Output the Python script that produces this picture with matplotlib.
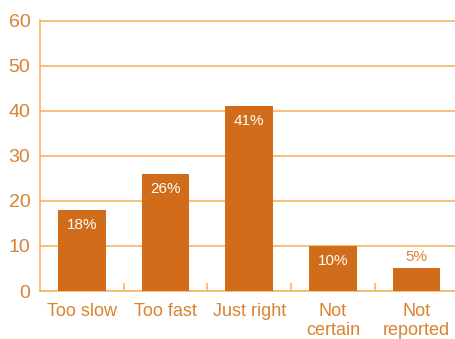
import matplotlib.pyplot as plt

categories = ["Too slow", "Too fast", "Just right", "Not\ncertain", "Not\nreported"]
values = [18, 26, 41, 10, 5]
labels = ["18%", "26%", "41%", "10%", "5%"]

bar_color = "#D06C1A"
grid_color = "#F7B567"
text_color = "#D9822F"

plt.rcParams['font.family'] = ['Liberation Sans', 'DejaVu Sans']

fig = plt.figure(figsize=(4.55, 3.39), dpi=100)
ax = fig.add_axes([40/455, 48/339, 415/455, 271/339])

x = list(range(len(categories)))
ax.bar(x, values, width=0.57, color=bar_color, zorder=3)

# valeurs dans ou au-dessus des barres
for i, v in enumerate(values):
    if v >= 10:
        ax.text(i, v - 1.7, labels[i], ha="center", va="top", color="white", fontsize=11, zorder=4)
    else:
        ax.text(i, v + 1, labels[i], ha="center", va="bottom", color=text_color, fontsize=11, zorder=4)

ax.set_xlim(-0.5, 4.46)
ax.set_ylim(0, 60.2)
ax.set_yticks(range(0, 61, 10))
ax.yaxis.grid(True, color=grid_color, linewidth=1.2, zorder=0)
ax.set_xticks(x)
ax.set_xticklabels(categories, color=text_color, fontsize=13, linespacing=1.1)
ax.set_xticks([0.5, 1.5, 2.5, 3.5], minor=True)
ax.tick_params(axis="x", which="major", length=0, pad=9)
ax.tick_params(axis="x", which="minor", direction="in", length=6, color=grid_color, width=1.2)
ax.tick_params(axis="y", length=0, labelcolor=text_color, labelsize=14, pad=7)

for s in ["top", "right"]:
    ax.spines[s].set_visible(False)
ax.spines["left"].set_color(grid_color)
ax.spines["bottom"].set_color(grid_color)
ax.spines["left"].set_linewidth(1.2)
ax.spines["bottom"].set_linewidth(1.2)

plt.savefig("out.png", dpi=100)
